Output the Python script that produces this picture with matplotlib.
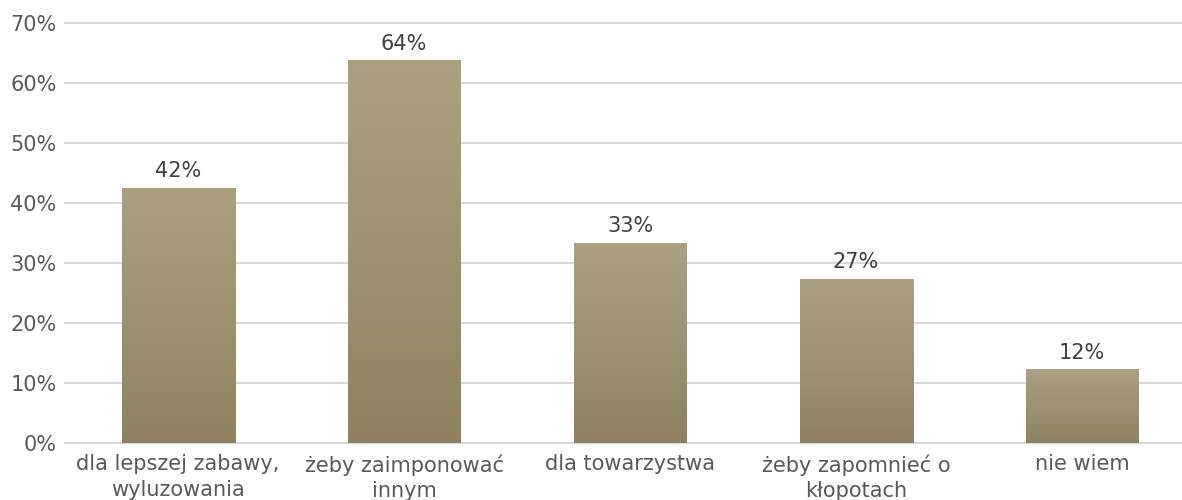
import numpy as np
import matplotlib
matplotlib.use("Agg")
from matplotlib import pyplot as plt
from matplotlib.colors import LinearSegmentedColormap

# dane
categories = ["dla lepszej zabawy,\nwyluzowania", "żeby zaimponować\ninnym",
              "dla towarzystwa", "żeby zapomnieć o\nkłopotach", "nie wiem"]
values = [42.4, 63.7, 33.3, 27.3, 12.2]
yticks = [0, 10, 20, 30, 40, 50, 60, 70]

plt.rcParams['font.family'] = ['DejaVu Sans']
text_color = '#595959'
fs = 15

fig = plt.figure(figsize=(11.82, 5.0), dpi=100)
ax = fig.add_axes([65 / 1182, 57 / 500, 1130 / 1182, 420 / 500])

# gradient słupków: jaśniej u góry, ciemniej u dołu
cmap = LinearSegmentedColormap.from_list('bar', ['#8E8260', '#ABA182'])
grad = np.linspace(1, 0, 256).reshape(-1, 1)
width = 0.5
for i, v in enumerate(values):
    ax.imshow(grad, cmap=cmap, aspect='auto', interpolation='bicubic',
              extent=(i - width / 2, i + width / 2, 0, v), zorder=3)
    ax.text(i, v + 1.2, '%.0f%%' % v, ha='center', va='bottom',
            fontsize=fs, color='#404040', zorder=4)

ax.set_xlim(-0.5, len(values) - 0.5)
ax.set_ylim(0, 70)
ax.set_yticks(yticks)
ax.set_yticklabels(['%d%%' % t for t in yticks])
ax.set_xticks(range(len(categories)))
ax.set_xticklabels(categories, linespacing=1.35)
ax.tick_params(axis='both', length=0, labelsize=fs, labelcolor=text_color)
ax.tick_params(axis='y', pad=6)
ax.tick_params(axis='x', pad=8)

ax.grid(axis='y', color='#D9D9D9', linewidth=1.5, zorder=0)
for gl in ax.get_ygridlines():
    gl.set_clip_on(False)
ax.set_axisbelow(True)
for s in ['top', 'right', 'left']:
    ax.spines[s].set_visible(False)
ax.spines['bottom'].set_color('#D9D9D9')
ax.spines['bottom'].set_linewidth(1.5)

fig.savefig('out.png', dpi=100)
